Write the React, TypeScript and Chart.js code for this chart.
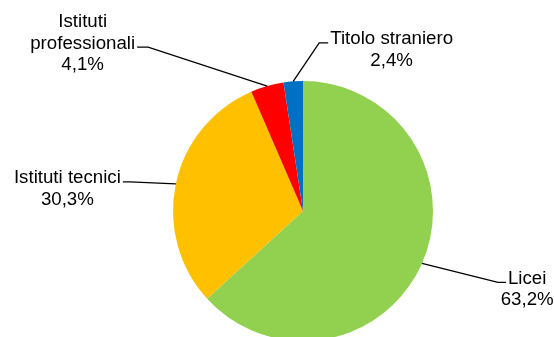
import React, { useEffect, useRef } from "react";
import { Chart, registerables } from "chart.js";

Chart.register(...registerables);

const categories = ["Licei", "Istituti tecnici", "Istituti professionali", "Titolo straniero"];
const labelLines = [["Licei"], ["Istituti tecnici"], ["Istituti", "professionali"], ["Titolo straniero"]];
const shares = [63.2, 30.3, 4.1, 2.4];
const sliceColors = ["#92D050", "#FFC000", "#FF0000", "#0070C0"];

// leader-line layout: elbow offset from slice edge midpoint, side of text, horizontal stub, line the leader attaches to
const leaderLayout = [
  { dx: 76, dy: 19, side: 1, stub: 8, anchor: 0 },
  { dx: -46, dy: -2, side: -1, stub: 7, anchor: 0 },
  { dx: -119, dy: -39, side: -1, stub: 11, anchor: 1 },
  { dx: 26, dy: -38.5, side: 1, stub: 9, anchor: 0 },
];

const FONT = '18.7px "Liberation Sans", Arial, sans-serif';
const LINE_H = 21.5;

const fmt = (v: number) => v.toFixed(1).replace(".", ",") + "%";

const labelPlugin = {
  id: "pieLabels",
  afterDatasetsDraw(chart: any) {
    const ctx = chart.ctx;
    const meta = chart.getDatasetMeta(0);
    ctx.save();
    ctx.font = FONT;
    ctx.fillStyle = "#000";
    ctx.strokeStyle = "#000";
    ctx.lineWidth = 1.3;
    meta.data.forEach((arc: any, i: number) => {
      const p = arc.getProps(["x", "y", "startAngle", "endAngle", "outerRadius"], true);
      const mid = (p.startAngle + p.endAngle) / 2;
      const ex = p.x + Math.cos(mid) * p.outerRadius;
      const ey = p.y + Math.sin(mid) * p.outerRadius;
      const L = leaderLayout[i];
      const bx = ex + L.dx;
      const by = ey + L.dy;
      const sx = bx + L.side * L.stub;
      ctx.beginPath();
      ctx.moveTo(ex, ey);
      ctx.lineTo(bx, by);
      ctx.lineTo(sx, by);
      ctx.stroke();
      const lines = [...labelLines[i], fmt(shares[i])];
      const wa = ctx.measureText(lines[L.anchor]).width;
      const cx = sx + L.side * (2 + wa / 2);
      const baseA = by + 1.5;
      ctx.textAlign = "center";
      ctx.textBaseline = "alphabetic";
      lines.forEach((t, k) => ctx.fillText(t, cx, baseA + (k - L.anchor) * LINE_H));
    });
    ctx.restore();
  },
};

export default function App() {
  const ref = useRef<HTMLCanvasElement>(null);
  useEffect(() => {
    document.body.style.margin = "0";
    const chart = new Chart(ref.current!, {
      type: "pie",
      data: {
        labels: categories,
        datasets: [
          {
            data: shares,
            backgroundColor: sliceColors,
            borderWidth: 0,
            radius: 130,
            clip: false,
          } as any,
        ],
      },
      options: {
        responsive: false,
        animation: false,
        events: [],
        layout: { padding: { left: 52, top: 85, right: 0, bottom: 0 } },
        plugins: { legend: { display: false }, tooltip: { enabled: false } },
      },
      plugins: [labelPlugin],
    });
    return () => chart.destroy();
  }, []);
  return (
    <div style={{ width: 554, height: 337, overflow: "hidden", background: "#fff" }}>
      <canvas ref={ref} width={554} height={337} />
    </div>
  );
}
